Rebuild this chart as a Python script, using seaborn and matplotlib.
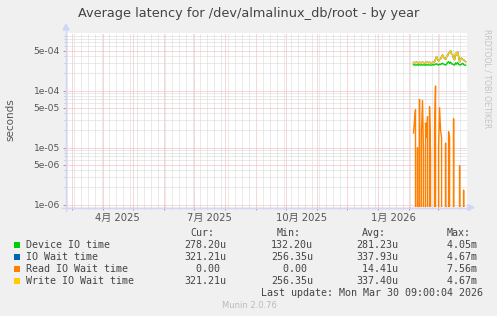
import numpy as np
import pandas as pd
import matplotlib
matplotlib.use("Agg")
import matplotlib.pyplot as plt
from matplotlib.patches import Rectangle
import seaborn as sns

# ---------------- data ----------------
start_day = "2026-02-05"
n_days = 53
series_names = ["Device IO time", "IO Wait time", "Read IO Wait time", "Write IO Wait time"]
series_colors = ["#00CC00", "#0066B3", "#FF8000", "#FFCC00"]

device_io = [2.85, 2.80, 2.82, 2.78, 2.85, 2.80, 2.83, 2.79, 2.84, 2.80, 2.82, 2.78, 2.86, 2.80,
             2.83, 2.79, 2.82, 2.80, 2.78, 2.84, 2.80,
             2.85, 2.90, 2.95, 2.85, 2.80, 2.90, 2.85, 2.95, 3.00, 2.90, 2.85, 2.80, 2.90, 3.10,
             3.20, 3.00, 3.15, 2.95, 2.90, 2.85, 2.80, 3.05, 2.90, 3.10, 2.90, 2.80, 2.85, 2.90,
             3.00, 2.85, 2.80, 2.782]
io_wait = [3.10, 3.12, 3.08, 3.15, 3.10, 3.05, 3.12, 3.10, 3.08, 3.14, 3.10, 3.06, 3.12, 3.10,
           3.15, 3.08, 3.12, 3.10, 3.05, 3.12, 3.10,
           3.20, 3.55, 3.95, 3.50, 3.30, 3.46, 3.60, 3.90, 4.20, 3.80, 3.70, 3.50, 3.90, 4.10,
           4.50, 4.70, 5.00, 4.40, 4.20, 3.60, 3.46, 4.50, 4.20, 4.80, 4.00, 3.20, 3.50, 3.70,
           3.50, 3.46, 3.30, 3.2121]
read_io_wait = [18, 30, 46, 0, 10, 0, 70, 0, 20, 67, 8, 0, 27, 15, 35, 0, 52, 8, 0, 0, 0, 20,
                120, 0, 0, 10, 50, 20, 15, 0, 0, 0, 12, 0, 0, 19, 15, 0, 0, 0, 32, 0, 0, 0, 0,
                0, 4.8, 0, 0, 0, 1.8, 0, 0]
write_io_wait = [3.10, 3.12, 3.08, 3.15, 3.10, 3.05, 3.12, 3.10, 3.08, 3.14, 3.10, 3.06, 3.12, 3.10,
                 3.15, 3.08, 3.12, 3.10, 3.05, 3.12, 3.10,
                 3.20, 3.50, 3.95, 3.50, 3.30, 3.46, 3.60, 3.90, 4.20, 3.80, 3.70, 3.50, 3.90, 4.10,
                 4.50, 4.70, 5.00, 4.40, 4.20, 3.60, 3.46, 4.50, 4.20, 4.80, 4.00, 3.20, 3.50, 3.70,
                 3.50, 3.46, 3.30, 3.2121]

cur_vals = ["278.20u", "321.21u", "  0.00", "321.21u"]
min_vals = ["132.20u", "256.35u", "  0.00", "256.35u"]
avg_vals = ["281.23u", "337.93u", " 14.41u", "337.40u"]
max_vals = ["  4.05m", "  4.67m", "  7.56m", "  4.67m"]

y_tick_vals = [1e-6, 5e-6, 1e-5, 5e-5, 1e-4, 5e-4]
y_tick_labels = ["1e-06", "5e-06", "1e-05", "5e-05", "1e-04", "5e-04"]
x_label_text = ["4月 2025", "7月 2025", "10月 2025", "1月 2026"]
x_label_dates = ["2025-04-16", "2025-07-16", "2025-10-16", "2026-01-16"]

end_time = pd.Timestamp("2026-03-30 09:00:04")
start_time = end_time - pd.Timedelta(days=400)
y_min, y_max = 9.1e-7, 1.02e-3

dates = pd.date_range(start_day, periods=n_days, freq="D")
df = pd.concat([
    pd.DataFrame({"time": dates, "value": np.array(device_io) * 1e-4, "series": series_names[0]}),
    pd.DataFrame({"time": dates, "value": np.array(io_wait) * 1e-4, "series": series_names[1]}),
    pd.DataFrame({"time": dates, "value": np.array(read_io_wait) * 1e-6, "series": series_names[2]}),
    pd.DataFrame({"time": dates, "value": np.array(write_io_wait) * 1e-4, "series": series_names[3]}),
], ignore_index=True)

# ---------------- figure ----------------
W, H = 497, 316
fig = plt.figure(figsize=(W / 100, H / 100), dpi=100, facecolor="#F0F0F0")
L, R, T, B = 66, 467, 33, 207
ax = fig.add_axes([L / W, 1 - B / H, (R - L) / W, (B - T) / H])
ax.set_facecolor("white")

sns.lineplot(data=df, x="time", y="value", hue="series", hue_order=series_names,
             palette=series_colors, estimator=None, sort=False, linewidth=1.0,
             legend=False, ax=ax)
ax.set_yscale("log", nonpositive="clip")

for s in ax.spines.values():
    s.set_visible(False)

grid_gray = "#D6D6D6"
grid_red = "#F4B0B0"
dot = (0, (1, 1))

# horizontal grid
minor_y = [m * 10.0 ** e for e in range(-7, -2) for m in (2, 3, 4, 6, 7, 8, 9)]
minor_y = [v for v in minor_y if y_min < v < y_max]
ax.set_yticks(minor_y, minor=True)
ax.set_yticks(y_tick_vals)
ax.set_yticklabels(y_tick_labels)
# vertical grid
months = pd.date_range("2025-03-01", "2026-03-01", freq="MS")
weeks = pd.date_range("2025-02-24", "2026-03-29", freq="7D")
ax.set_xticks(months)
ax.set_xticklabels([""] * len(months))
ax.set_xticks(weeks, minor=True)
ax.set_ylim(y_min, y_max)
ax.set_xlim(start_time, end_time)

ax.grid(which="minor", color=grid_gray, linestyle=dot, linewidth=0.72)
ax.grid(which="major", color=grid_red, linestyle=dot, linewidth=0.72)
ax.set_axisbelow(True)
ax.tick_params(axis="both", which="major", color="#F08080", length=2.2, width=0.72,
               labelsize=6.6, labelcolor="#555555", pad=2.2)
ax.tick_params(axis="both", which="minor", color="#C8C8C8", length=1.5, width=0.72)
ax.tick_params(axis="y", which="minor", labelleft=False)
ax.set_xlabel("")
ax.set_ylabel("")

for lbl, d in zip(x_label_text, x_label_dates):
    ax.text(pd.Timestamp(d), -0.065, lbl, transform=ax.get_xaxis_transform(),
            ha="center", va="center", fontsize=7.2, color="#555555",
            family=["DejaVu Sans", "Noto Sans CJK JP"])

def fx(px):
    return px / W

def fy(py):
    return 1 - py / H

# axes with arrows
axis_col = "#CFD6F8"
fig.add_artist(plt.Line2D([fx(62), fx(470)], [fy(207.5), fy(207.5)], color=axis_col, lw=1.0))
fig.add_artist(plt.Line2D([fx(66), fx(66)], [fy(211), fy(29)], color=axis_col, lw=1.0))
fig.add_artist(plt.Polygon([[fx(468), fy(204.5)], [fx(474), fy(207.5)], [fx(468), fy(210.5)]],
                           closed=True, color=axis_col, transform=fig.transFigure))
fig.add_artist(plt.Polygon([[fx(63), fy(30)], [fx(66), fy(24)], [fx(69), fy(30)]],
                           closed=True, color=axis_col, transform=fig.transFigure))

# titles
fig.text(fx(249), fy(13), "Average latency for /dev/almalinux_db/root - by year",
         ha="center", va="center", fontsize=9.3, color="#444444")
fig.text(fx(10), fy(120), "seconds", rotation=90, ha="center", va="center",
         fontsize=7.5, color="#555555")
fig.text(fx(487), fy(29), "RRDTOOL / TOBI OETIKER", rotation=270, ha="center", va="top",
         fontsize=5.6, color="#C4C4C4")

# legend
mono = "DejaVu Sans Mono"
lfs = 7.2
tcol = "#444444"
hy = 233
fig.text(fx(190), fy(hy), "Cur:", family=mono, fontsize=lfs, color=tcol, va="center")
fig.text(fx(277), fy(hy), "Min:", family=mono, fontsize=lfs, color=tcol, va="center")
fig.text(fx(362), fy(hy), "Avg:", family=mono, fontsize=lfs, color=tcol, va="center")
fig.text(fx(447), fy(hy), "Max:", family=mono, fontsize=lfs, color=tcol, va="center")
row_y = [244.7, 256.7, 268.7, 280.7]
for i, name in enumerate(series_names):
    y = row_y[i]
    fig.add_artist(Rectangle((fx(14), fy(y + 3)), 6 / W, 6 / H, transform=fig.transFigure,
                             facecolor=series_colors[i], edgecolor="none"))
    fig.text(fx(26), fy(y), name, family=mono, fontsize=lfs, color=tcol, va="center")
    fig.text(fx(184), fy(y), cur_vals[i], family=mono, fontsize=lfs, color=tcol, va="center")
    fig.text(fx(271), fy(y), min_vals[i], family=mono, fontsize=lfs, color=tcol, va="center")
    fig.text(fx(356), fy(y), avg_vals[i], family=mono, fontsize=lfs, color=tcol, va="center")
    fig.text(fx(435), fy(y), max_vals[i], family=mono, fontsize=lfs, color=tcol, va="center")
fig.text(fx(483), fy(292.5), "Last update: Mon Mar 30 09:00:04 2026", family=mono,
         fontsize=lfs, color=tcol, va="center", ha="right")
fig.text(fx(249), fy(305.3), "Munin 2.0.76", fontsize=6.0, color="#BBBBBB",
         ha="center", va="center")

fig.savefig("out.png", dpi=100, facecolor=fig.get_facecolor())
